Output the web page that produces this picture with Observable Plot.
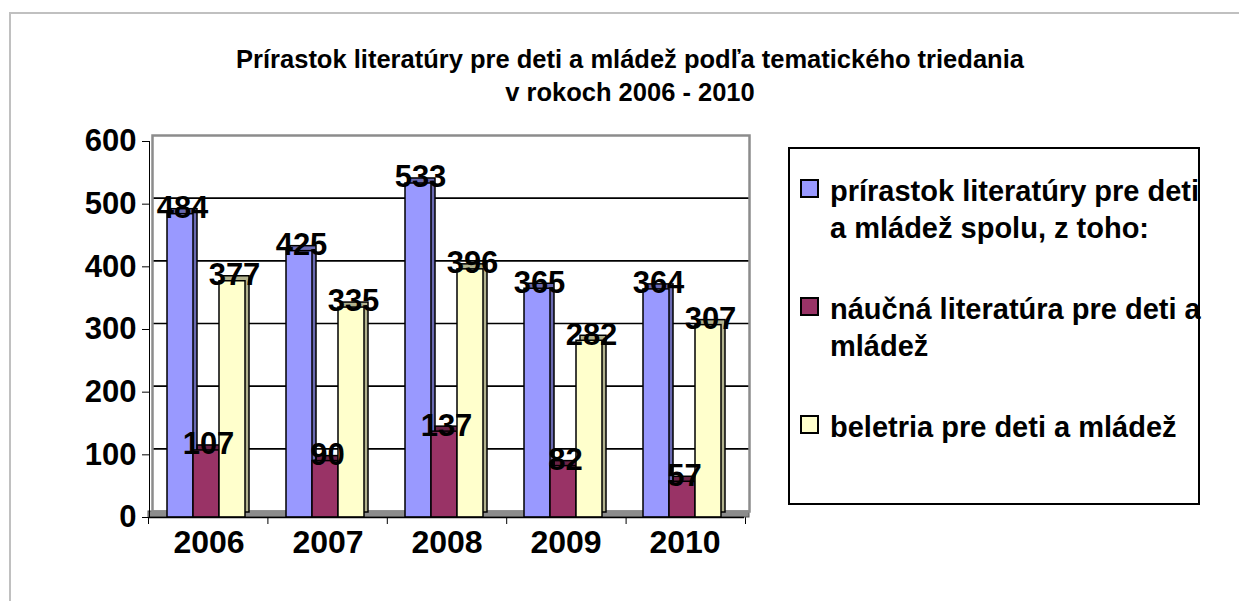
<!DOCTYPE html>
<html>
<head>
<meta charset="utf-8">
<script src="https://cdn.jsdelivr.net/npm/d3@7"></script>
<script src="https://cdn.jsdelivr.net/npm/@observablehq/plot@0.6"></script>
<style>
  html, body { margin: 0; padding: 0; background: #fff; }
  body { width: 1239px; height: 601px; position: relative; overflow: hidden;
         font-family: "Liberation Sans", Arial, sans-serif; }
  #frame { position: absolute; left: 9px; top: 12px; width: 1240px; height: 600px;
           border-top: 2px solid #c0c0c0; border-left: 2px solid #c0c0c0; }
  #title { position: absolute; left: 0; top: 43px; width: 1260px; text-align: center;
           font-weight: bold; font-size: 25.5px; line-height: 33px; color: #000; }
  .layer { position: absolute; left: 0; top: 100px; }
  .layer svg { overflow: visible; }
  #legend { position: absolute; left: 788px; top: 147px; width: 408px; height: 354px;
            border: 2px solid #000; background: #fff; box-sizing: content-box; }
  .item { position: relative; padding-left: 40px; width: 380px;
          font-weight: bold; font-size: 29px; line-height: 37px; color: #000; margin-bottom: 44px; }
  .sw { position: absolute; left: 10px; top: 6px; width: 15px; height: 15px; border: 2px solid #000; }
  [aria-label^="fx-axis"] text { font-size: 32px; }
</style>
</head>
<body>
<div id="frame"></div>
<div id="title">Prírastok literatúry pre deti a mládež podľa tematického triedania<br>v rokoch 2006 - 2010</div>
<div id="back" class="layer"></div>
<div id="front" class="layer"></div>
<div id="legend"></div>
<script>
const years = ["2006", "2007", "2008", "2009", "2010"];
const series = [
  "prírastok literatúry pre deti a mládež spolu, z toho:",
  "náučná literatúra pre deti a mládež",
  "beletria pre deti a mládež"
];
const total    = [484, 425, 533, 365, 364];
const naucna   = [107,  90, 137,  82,  57];
const beletria = [377, 335, 396, 282, 307];
const yTicks = [0, 100, 200, 300, 400, 500, 600];
const colors = ["#9999ff", "#993366", "#ffffcc"];

const values = [total, naucna, beletria];
const data = years.flatMap((year, i) =>
  series.map((s, j) => ({year, series: s, value: values[j][i]})));

const W = 770, H = 470, mt = 41, mb = 53, ml = 148, mr = 25;
const font = {background: "transparent", fontFamily: "'Liberation Sans', Arial, sans-serif",
              fontSize: "31px", fontWeight: "bold", color: "#000", overflow: "visible"};

// Back wall, gridlines, floor, category separator ticks
const back = Plot.plot({
  width: W, height: H, marginTop: mt, marginBottom: mb, marginLeft: ml, marginRight: mr,
  style: font,
  x: {domain: [0, years.length], ticks: d3.range(years.length + 1), tickSize: 7,
      tickFormat: () => "", label: null},
  y: {domain: [yTicks[0], yTicks[yTicks.length - 1]], axis: null},
  marks: [
    Plot.rect([0], {x1: 0, x2: years.length, y1: 0, y2: 0, insetTop: -6, insetRight: -4,
                    fill: "#8c8c8c", stroke: "#555", strokeWidth: 1}),
    Plot.ruleY(yTicks.slice(1, -1), {dx: 4, dy: -6, stroke: "#000", strokeWidth: 1.6}),
    Plot.frame({dx: 4, dy: -6, stroke: "#8c8c8c", strokeWidth: 2.5})
  ]
});
document.getElementById("back").appendChild(back);

// Bars, labels, axes
const front = Plot.plot({
  width: W, height: H, marginTop: mt, marginBottom: mb, marginLeft: ml, marginRight: mr,
  style: font,
  fx: {domain: years, padding: 0, axis: "bottom", tickSize: 0, tickPadding: 13, label: null},
  x: {domain: series, paddingInner: 0, paddingOuter: 0.75, align: 0.45, axis: null},
  y: {domain: [yTicks[0], yTicks[yTicks.length - 1]], ticks: yTicks, tickSize: 7,
      tickPadding: 6, label: null, line: true},
  color: {domain: series, range: colors},
  marks: [
    // side / top faces (shifted copy, darkened)
    Plot.barY(data, {fx: "year", x: "series", y: "value", fill: "series", dx: 4, dy: -5}),
    Plot.barY(data, {fx: "year", x: "series", y: "value", fill: "#000", fillOpacity: 0.3,
                     dx: 4, dy: -5, stroke: "#000", strokeWidth: 1.5}),
    // front faces
    Plot.barY(data, {fx: "year", x: "series", y: "value", fill: "series",
                     stroke: "#000", strokeWidth: 1.5}),
    Plot.ruleY([0], {stroke: "#000", strokeWidth: 1.5}),
    Plot.text(data, {fx: "year", x: "series", y: "value", text: "value",
                     dx: 2, dy: -6, lineAnchor: "middle", fill: "#000"})
  ]
});
document.getElementById("front").appendChild(front);

// Legend
const legend = document.getElementById("legend");
legend.style.paddingTop = "0px";
series.forEach((s, i) => {
  const item = document.createElement("div");
  item.className = "item";
  if (i === 0) item.style.marginTop = "24px";
  const sw = document.createElement("span");
  sw.className = "sw";
  sw.style.background = colors[i];
  item.appendChild(sw);
  item.appendChild(document.createTextNode(s));
  legend.appendChild(item);
});
</script>
</body>
</html>
